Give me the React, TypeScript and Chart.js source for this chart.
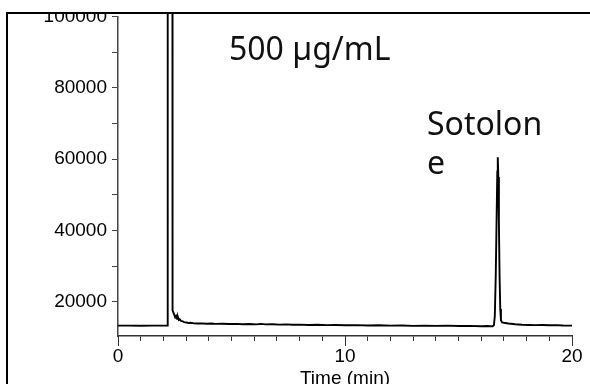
import React, { useEffect, useRef } from 'react';
import { Chart, registerables } from 'chart.js';

Chart.register(...registerables);

// Retention time (min)
const timeMin = [
  0, 0.5, 1.0, 1.5, 2.0, 2.18,
  2.19, 2.385, 2.39, 2.40, 2.42, 2.45, 2.48, 2.52, 2.56, 2.60, 2.64, 2.68, 2.72, 2.78, 2.85, 2.92,
  3.0, 3.1, 3.2, 3.35, 3.5, 3.7, 3.9, 4.1, 4.3, 4.6, 4.9, 5.2, 5.5, 5.8, 6.1, 6.3, 6.5, 6.8,
  7.1, 7.4, 7.7, 8.0, 8.4, 8.8, 9.2, 9.6, 10.0, 10.5, 11.0, 11.5, 12.0, 12.5, 13.0, 13.5,
  14.0, 14.5, 15.0, 15.5, 16.0, 16.3, 16.5,
  16.56, 16.60, 16.64, 16.68, 16.71, 16.73, 16.755, 16.78, 16.81, 16.84, 16.87, 16.92,
  17.0, 17.2, 17.5, 17.8, 18.1, 18.4, 18.7, 19.0, 19.3, 19.6, 20.0,
];

// Detector response
const intensity = [
  13300, 13320, 13290, 13310, 13300, 13300,
  320000, 320000, 20500, 18800, 17600, 16800, 16300, 15600, 16000, 15200, 15700, 14900, 15100, 14600, 14500, 14300,
  14200, 14050, 14100, 13950, 13900, 13950, 13850, 13900, 13800, 13850, 13750, 13800, 13700, 13750, 13650, 13800, 13650, 13700,
  13600, 13650, 13550, 13600, 13500, 13550, 13450, 13500, 13400, 13450, 13350, 13400, 13300, 13350, 13250, 13300,
  13250, 13300, 13200, 13250, 13150, 13200, 13100,
  13400, 16000, 27000, 44000, 56500, 60500, 55000, 42000, 27000, 18000, 14800, 14200,
  14100, 13900, 13700, 13550, 13500, 13450, 13500, 13400, 13450, 13350, 13300,
];

const yTickValues = [20000, 30000, 40000, 50000, 60000, 70000, 80000, 90000, 100000];
const yLabelEvery = 20000;
const xMajorTicks = [0, 10, 20];
const xAxisTitle = 'Time (min)';

const annotationTexts = ['500 µg/mL', 'Sotolon', 'e'];
const annotationX = [4.89, 13.61, 13.61];
const annotationY = [87900, 66800, 55900];

export default function App() {
  const ref = useRef<HTMLCanvasElement | null>(null);

  useEffect(() => {
    if (!ref.current) return;
    const points = timeMin.map((t, i) => ({ x: t, y: intensity[i] }));

    const decor = {
      id: 'decor',
      afterDatasetsDraw(chart: any) {
        const ctx = chart.ctx;
        const xs = chart.scales.x;
        const ys = chart.scales.y;
        ctx.save();
        ctx.fillStyle = '#111';
        ctx.font = '32px "Noto Sans"';
        ctx.textAlign = 'left';
        ctx.textBaseline = 'alphabetic';
        annotationTexts.forEach((txt, i) => {
          ctx.fillText(txt, xs.getPixelForValue(annotationX[i]), ys.getPixelForValue(annotationY[i]));
        });
        ctx.restore();
      },
      afterDraw(chart: any) {
        const ctx = chart.ctx;
        const xs = chart.scales.x;
        const area = chart.chartArea;
        ctx.save();
        ctx.strokeStyle = '#333';
        ctx.lineWidth = 1;
        xMajorTicks.forEach((v) => {
          const px = Math.round(xs.getPixelForValue(v)) + 0.5;
          ctx.beginPath();
          ctx.moveTo(px, area.bottom);
          ctx.lineTo(px, area.bottom + 10);
          ctx.stroke();
        });
        ctx.fillStyle = '#fff';
        ctx.fillRect(0, 0, chart.width, 12);
        ctx.fillRect(0, 0, 6, chart.height);
        ctx.strokeStyle = '#000';
        ctx.lineWidth = 2;
        ctx.strokeRect(7, 13, chart.width + 20, chart.height + 20);
        ctx.restore();
      },
    };

    const chart = new Chart(ref.current, {
      type: 'line',
      data: {
        datasets: [
          {
            data: points,
            borderColor: '#000',
            borderWidth: 1.9,
            pointRadius: 0,
            tension: 0,
            fill: false,
            clip: { left: 0, top: 3, right: 0, bottom: 0 } as any,
          },
        ],
      },
      options: {
        animation: false,
        responsive: false,
        events: [],
        layout: { padding: { left: 0, top: 15, right: 18, bottom: 0 } },
        plugins: { legend: { display: false }, tooltip: { enabled: false } },
        scales: {
          x: {
            type: 'linear',
            min: 0,
            max: 20,
            afterFit: (s: any) => { s.height = 48; },
            ticks: {
              stepSize: 1,
              autoSkip: false,
              maxRotation: 0,
              padding: 4,
              color: '#000',
              font: { family: '"Liberation Sans", Arial, sans-serif', size: 19 },
              callback: (v: any) => (Number(v) % 10 === 0 ? String(v) : ''),
            },
            grid: { drawOnChartArea: false, drawTicks: true, tickLength: 5, color: '#333', lineWidth: 1 },
            border: { display: true, color: '#333', width: 1.5 },
            title: {
              display: true,
              text: xAxisTitle,
              color: '#000',
              font: { family: '"Liberation Sans", Arial, sans-serif', size: 19, lineHeight: 0.5 },
              padding: { top: 0, bottom: 0 },
            },
          },
          y: {
            type: 'linear',
            min: 10400,
            max: 100000,
            afterFit: (s: any) => { s.width = 118; },
            afterBuildTicks: (s: any) => { s.ticks = yTickValues.map((v) => ({ value: v })); },
            ticks: {
              autoSkip: false,
              padding: 5,
              color: '#000',
              font: { family: '"Liberation Sans", Arial, sans-serif', size: 19 },
              callback: (v: any) => (Number(v) % yLabelEvery === 0 ? String(v) : ''),
            },
            grid: { drawOnChartArea: false, drawTicks: true, tickLength: 6, color: '#444', lineWidth: 1 },
            border: { display: true, color: '#444', width: 1.5 },
          },
        },
      },
      plugins: [decor],
    });
    return () => chart.destroy();
  }, []);

  return (
    <div style={{ position: 'fixed', left: 0, top: 0, width: 590, height: 384, background: '#fff' }}>
      <canvas ref={ref} width={590} height={384} style={{ display: 'block' }} />
    </div>
  );
}
